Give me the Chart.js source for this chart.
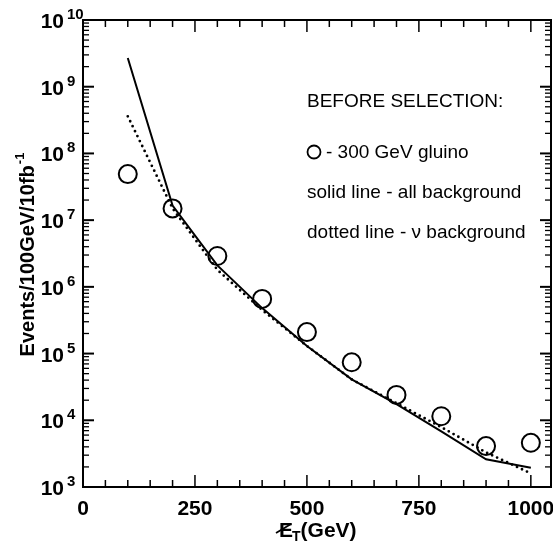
<!DOCTYPE html>
<html>
<head>
<meta charset="utf-8">
<script src="https://cdn.jsdelivr.net/npm/chart.js@4/dist/chart.umd.min.js"></script>
<style>
    body { margin: 0; background: #fff; }
    canvas { display: block; }
</style>
</head>
<body>
<canvas id="etChart" width="553" height="551"></canvas>
<script>
// Missing E_T spectrum before selection
const energies = [100, 200, 300, 400, 500, 600, 700, 800, 900, 1000];
const gluino = [4.9e7, 1.5e7, 2.9e6, 6.6e5, 2.1e5, 7.4e4, 2.4e4, 1.15e4, 4.1e3, 4.6e3]; // 300 GeV gluino
const allBackground = [2.7e9, 1.65e7, 2.1e6, 4.8e5, 1.3e5, 4.1e4, 1.75e4, 6.8e3, 2.6e3, 1.95e3];
const nuBackground = [3.6e8, 1.5e7, 1.8e6, 4.5e5, 1.3e5, 4.1e4, 1.8e4, 7.9e3, 3.3e3, 1.6e3];

const xTickValues = [0, 250, 500, 750, 1000];
const yTickExponents = [3, 4, 5, 6, 7, 8, 9, 10];

const legendLines = [
    'BEFORE SELECTION:',
    '- 300 GeV gluino',
    'solid line - all background',
    'dotted line - \u03bd background'
];

const FONT = '"Liberation Sans", Arial, sans-serif';

function toPoints(values) {
    return energies.map((e, i) => ({ x: e, y: values[i] }));
}

// frame, inward ticks, tick labels, axis titles and the text block
const framePlugin = {
    id: 'framePlugin',
    afterDatasetsDraw(chart) {
        const { ctx, chartArea: a, scales: { x, y } } = chart;
        ctx.save();
        ctx.strokeStyle = '#000';
        ctx.fillStyle = '#000';

        function line(x1, y1, x2, y2) {
            ctx.beginPath();
            ctx.moveTo(x1, y1);
            ctx.lineTo(x2, y2);
            ctx.stroke();
        }

        // x ticks every 50, longer at labelled values
        ctx.lineWidth = 1.5;
        x.ticks.forEach(t => {
            if (t.value % 50 !== 0) return;
            const px = x.getPixelForValue(t.value);
            const len = xTickValues.includes(t.value) ? 12 : 7;
            line(px, a.bottom, px, a.bottom - len);
            line(px, a.top, px, a.top + len);
        });

        // y ticks: decades and 2..9 in between
        for (let e = yTickExponents[0]; e <= yTickExponents[yTickExponents.length - 1]; e++) {
            for (let m = 1; m <= 9; m++) {
                const v = m * Math.pow(10, e);
                if (v > y.max) break;
                const py = y.getPixelForValue(v);
                const len = m === 1 ? 11 : 6;
                ctx.lineWidth = m === 1 ? 2 : 1.3;
                line(a.left, py, a.left + len, py);
                line(a.right, py, a.right - len, py);
            }
        }

        // frame
        ctx.lineWidth = 2;
        ctx.strokeRect(a.left, a.top, a.right - a.left, a.bottom - a.top);

        // x tick labels
        ctx.font = 'bold 21px ' + FONT;
        ctx.textAlign = 'center';
        ctx.textBaseline = 'alphabetic';
        xTickValues.forEach(v => {
            ctx.fillText(String(v), x.getPixelForValue(v), a.bottom + 28);
        });

        // y tick labels 10^n
        yTickExponents.forEach(e => {
            const py = y.getPixelForValue(Math.pow(10, e));
            ctx.font = 'bold 21px ' + FONT;
            ctx.textAlign = 'right';
            ctx.fillText('10', 64, py + 8);
            ctx.font = 'bold 15px ' + FONT;
            ctx.textAlign = 'left';
            ctx.fillText(String(e), 67, py - 1);
        });

        // y title with superscript
        ctx.save();
        ctx.translate(34, 255);
        ctx.rotate(-Math.PI / 2);
        ctx.font = 'bold 20px ' + FONT;
        const main = 'Events/100GeV/10fb';
        const wMain = ctx.measureText(main).width;
        ctx.font = 'bold 13px ' + FONT;
        const sup = '-1';
        const wSup = ctx.measureText(sup).width;
        const start = -(wMain + wSup) / 2;
        ctx.textAlign = 'left';
        ctx.font = 'bold 20px ' + FONT;
        ctx.fillText(main, start, 0);
        ctx.font = 'bold 13px ' + FONT;
        ctx.fillText(sup, start + wMain + 1, -10);
        ctx.restore();

        // x title: E_T with a slash, then (GeV)
        ctx.textAlign = 'left';
        ctx.font = 'bold 21px ' + FONT;
        const xs = 279, base = 537;
        ctx.fillText('E', xs, base);
        const wE = ctx.measureText('E').width;
        ctx.lineWidth = 1.8;
        line(xs - 3, base - 4, xs + wE - 2, base - 13);
        ctx.font = 'bold 14px ' + FONT;
        ctx.fillText('T', xs + wE - 1, base + 4);
        const wT = ctx.measureText('T').width;
        ctx.font = 'bold 21px ' + FONT;
        ctx.fillText('(GeV)', xs + wE + wT - 1, base);

        // text block inside the plot
        ctx.font = '19px ' + FONT;
        ctx.fillText(legendLines[0], 307, 107);
        ctx.lineWidth = 1.8;
        ctx.beginPath();
        ctx.arc(314, 152, 6.5, 0, Math.PI * 2);
        ctx.stroke();
        ctx.fillText(legendLines[1], 326, 158);
        ctx.fillText(legendLines[2], 307, 198);
        ctx.fillText(legendLines[3], 307, 238);

        ctx.restore();
    }
};

const ctx = document.getElementById('etChart').getContext('2d');
const etChart = new Chart(ctx, {
    type: 'line',
    data: {
        datasets: [
            {
                label: 'all background',
                data: toPoints(allBackground),
                borderColor: '#000',
                borderWidth: 2,
                pointRadius: 0,
                fill: false
            },
            {
                label: 'nu background',
                data: toPoints(nuBackground),
                borderColor: '#000',
                borderWidth: 2.8,
                borderDash: [0, 5.5],
                borderCapStyle: 'round',
                pointRadius: 0,
                fill: false
            },
            {
                label: '300 GeV gluino',
                data: toPoints(gluino),
                showLine: false,
                pointStyle: 'circle',
                pointRadius: 9,
                pointBorderWidth: 2,
                pointBorderColor: '#000',
                pointBackgroundColor: 'rgba(0,0,0,0)'
            }
        ]
    },
    options: {
        responsive: false,
        animation: false,
        layout: { autoPadding: false, padding: { top: 20, right: 2, left: 0, bottom: 0 } },
        plugins: {
            legend: { display: false },
            tooltip: { enabled: false }
        },
        scales: {
            x: {
                type: 'linear',
                min: 0,
                max: 1045,
                grid: { display: false, drawTicks: false },
                border: { display: false },
                ticks: {
                    display: false,
                    stepSize: 50,
                    includeBounds: false,
                    autoSkip: false
                },
                afterFit: scale => { scale.height = 64; }
            },
            y: {
                type: 'logarithmic',
                min: 1e3,
                max: 1e10,
                grid: { display: false, drawTicks: false },
                border: { display: false },
                ticks: { display: false },
                afterFit: scale => { scale.width = 83; }
            }
        }
    },
    plugins: [framePlugin]
});
</script>
</body>
</html>
